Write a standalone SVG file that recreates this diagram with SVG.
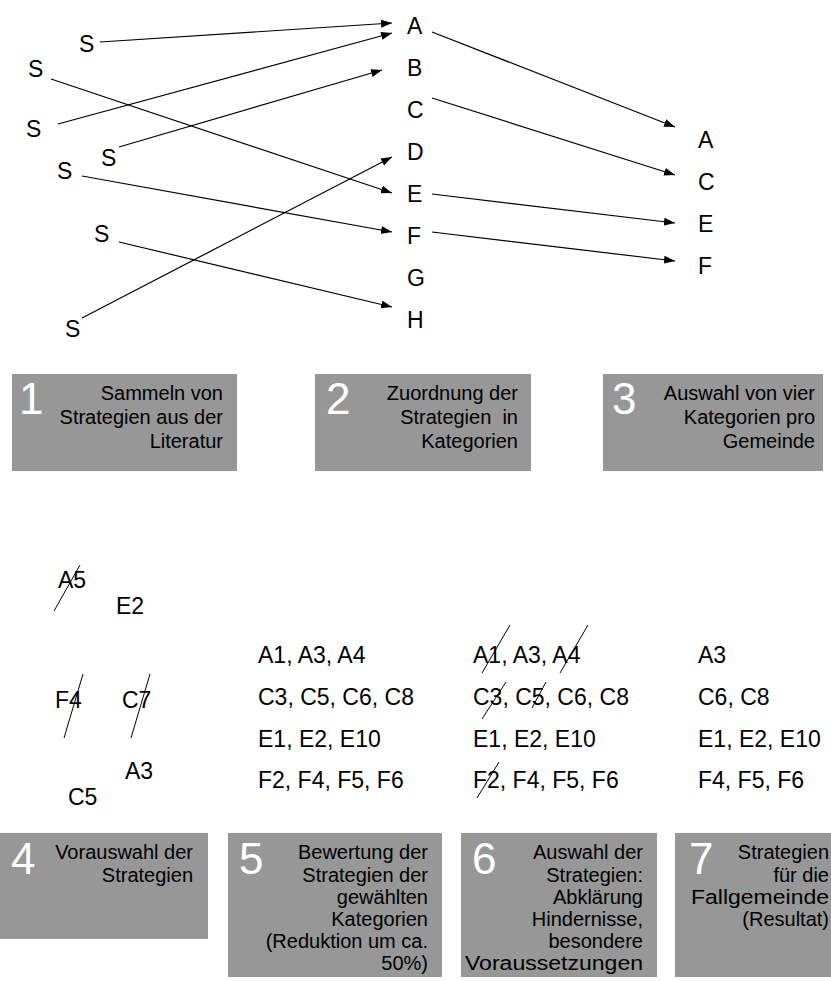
<svg xmlns="http://www.w3.org/2000/svg" width="831" height="981" viewBox="0 0 831 981">
<style>
  text { font-family: "Liberation Sans", Arial, sans-serif; fill: #000; }
  .lbl { font-size: 23px; }
  .box { fill: #979797; }
  .num { font-size: 44px; fill: #fff; }
  .bt { font-size: 20px; text-anchor: end; }
  .ln { stroke: #000; stroke-width: 1.2; fill: none; }
  .st { stroke: #000; stroke-width: 1; fill: none; }
</style>
<defs>
  <marker id="ah" markerUnits="userSpaceOnUse" markerWidth="12" markerHeight="9" refX="11" refY="4" orient="auto">
    <path d="M0,0 L11,4 L0,8 z" fill="#000"/>
  </marker>
</defs>
<rect width="831" height="981" fill="#fff"/>

<g id="sources">
  <text class="lbl" x="79" y="52">S</text>
  <text class="lbl" x="28" y="77">S</text>
  <text class="lbl" x="26" y="137">S</text>
  <text class="lbl" x="101" y="166">S</text>
  <text class="lbl" x="57" y="179">S</text>
  <text class="lbl" x="94" y="242">S</text>
  <text class="lbl" x="65" y="337">S</text>
</g>
<g id="categories">
  <text class="lbl" x="407" y="34">A</text>
  <text class="lbl" x="407" y="76">B</text>
  <text class="lbl" x="407" y="118">C</text>
  <text class="lbl" x="407" y="160">D</text>
  <text class="lbl" x="407" y="202">E</text>
  <text class="lbl" x="407" y="244">F</text>
  <text class="lbl" x="407" y="286">G</text>
  <text class="lbl" x="407" y="328">H</text>
</g>
<g id="selected">
  <text class="lbl" x="698" y="148">A</text>
  <text class="lbl" x="698" y="190">C</text>
  <text class="lbl" x="698" y="232">E</text>
  <text class="lbl" x="698" y="274">F</text>
</g>

<g id="connectors">
  <line class="ln" x1="100" y1="42" x2="392" y2="23" marker-end="url(#ah)"/>
  <line class="ln" x1="58" y1="124" x2="392" y2="33" marker-end="url(#ah)"/>
  <line class="ln" x1="119" y1="147" x2="382" y2="70" marker-end="url(#ah)"/>
  <line class="ln" x1="51" y1="79" x2="392" y2="193" marker-end="url(#ah)"/>
  <line class="ln" x1="82" y1="176" x2="392" y2="232" marker-end="url(#ah)"/>
  <line class="ln" x1="82" y1="318" x2="392" y2="157" marker-end="url(#ah)"/>
  <line class="ln" x1="119" y1="242" x2="392" y2="307" marker-end="url(#ah)"/>
  <line class="ln" x1="432" y1="32" x2="675" y2="127" marker-end="url(#ah)"/>
  <line class="ln" x1="432" y1="98" x2="675" y2="175" marker-end="url(#ah)"/>
  <line class="ln" x1="432" y1="194" x2="675" y2="223" marker-end="url(#ah)"/>
  <line class="ln" x1="432" y1="232" x2="675" y2="261" marker-end="url(#ah)"/>
</g>

<g id="step1">
  <rect class="box" x="12" y="374" width="225" height="97"/>
  <text class="num" x="19" y="414">1</text>
  <text class="bt" x="223" y="400">Sammeln von</text>
  <text class="bt" x="223" y="424">Strategien aus der</text>
  <text class="bt" x="223" y="448">Literatur</text>
</g>
<g id="step2">
  <rect class="box" x="315" y="374" width="216" height="97"/>
  <text class="num" x="326" y="414">2</text>
  <text class="bt" x="518" y="400">Zuordnung der</text>
  <text class="bt" x="518" y="424" xml:space="preserve">Strategien  in</text>
  <text class="bt" x="518" y="448">Kategorien</text>
</g>
<g id="step3">
  <rect class="box" x="603" y="374" width="220" height="97"/>
  <text class="num" x="612" y="414">3</text>
  <text class="bt" x="815" y="400">Auswahl von vier</text>
  <text class="bt" x="815" y="424">Kategorien pro</text>
  <text class="bt" x="815" y="448">Gemeinde</text>
</g>

<g id="preselection">
  <text class="lbl" x="58" y="588">A5</text>
  <line class="st" x1="54" y1="611" x2="80" y2="565"/>
  <text class="lbl" x="116" y="614">E2</text>
  <text class="lbl" x="55" y="708">F4</text>
  <line class="st" x1="64" y1="738" x2="83" y2="674"/>
  <text class="lbl" x="122" y="708">C7</text>
  <line class="st" x1="131" y1="738" x2="150" y2="674"/>
  <text class="lbl" x="125" y="779">A3</text>
  <text class="lbl" x="68" y="805">C5</text>
</g>

<g id="list5">
  <text class="lbl" x="258" y="663">A1, A3, A4</text>
  <text class="lbl" x="258" y="705">C3, C5, C6, C8</text>
  <text class="lbl" x="258" y="747">E1, E2, E10</text>
  <text class="lbl" x="258" y="788">F2, F4, F5, F6</text>
</g>
<g id="list6">
  <text class="lbl" x="473" y="663">A1, A3, A4</text>
  <line class="st" x1="482" y1="673" x2="510" y2="625"/>
  <line class="st" x1="560" y1="673" x2="588" y2="625"/>
  <text class="lbl" x="473" y="705">C3, C5, C6, C8</text>
  <line class="st" x1="482" y1="719" x2="506" y2="682"/>
  <line class="st" x1="532" y1="708" x2="546" y2="682"/>
  <text class="lbl" x="473" y="747">E1, E2, E10</text>
  <text class="lbl" x="473" y="788">F2, F4, F5, F6</text>
  <line class="st" x1="477" y1="798" x2="499" y2="762"/>
</g>
<g id="list7">
  <text class="lbl" x="698" y="663">A3</text>
  <text class="lbl" x="698" y="705">C6, C8</text>
  <text class="lbl" x="698" y="747">E1, E2, E10</text>
  <text class="lbl" x="698" y="788">F4, F5, F6</text>
</g>

<g id="step4">
  <rect class="box" x="0" y="833" width="208" height="106"/>
  <text class="num" x="11" y="874">4</text>
  <text class="bt" x="193" y="859">Vorauswahl der</text>
  <text class="bt" x="193" y="882">Strategien</text>
</g>
<g id="step5">
  <rect class="box" x="228" y="833" width="214" height="144"/>
  <text class="num" x="239" y="874">5</text>
  <text class="bt" x="428" y="859">Bewertung der</text>
  <text class="bt" x="428" y="882">Strategien der</text>
  <text class="bt" x="428" y="904">gewählten</text>
  <text class="bt" x="428" y="926">Kategorien</text>
  <text class="bt" x="428" y="948">(Reduktion um ca.</text>
  <text class="bt" x="428" y="970">50%)</text>
</g>
<g id="step6">
  <rect class="box" x="461" y="833" width="196" height="144"/>
  <text class="num" x="472" y="874">6</text>
  <text class="bt" x="643" y="859">Auswahl der</text>
  <text class="bt" x="643" y="882">Strategien:</text>
  <text class="bt" x="643" y="904">Abklärung</text>
  <text class="bt" x="643" y="926">Hindernisse,</text>
  <text class="bt" x="643" y="948">besondere</text>
  <text class="bt" x="643" y="970" textLength="178" lengthAdjust="spacingAndGlyphs">Voraussetzungen</text>
</g>
<g id="step7">
  <rect class="box" x="675" y="833" width="156" height="144"/>
  <text class="num" x="689" y="874">7</text>
  <text class="bt" x="829" y="859">Strategien</text>
  <text class="bt" x="829" y="882">für die</text>
  <text class="bt" x="829" y="904" textLength="138" lengthAdjust="spacingAndGlyphs">Fallgemeinde</text>
  <text class="bt" x="829" y="926">(Resultat)</text>
</g>
</svg>
